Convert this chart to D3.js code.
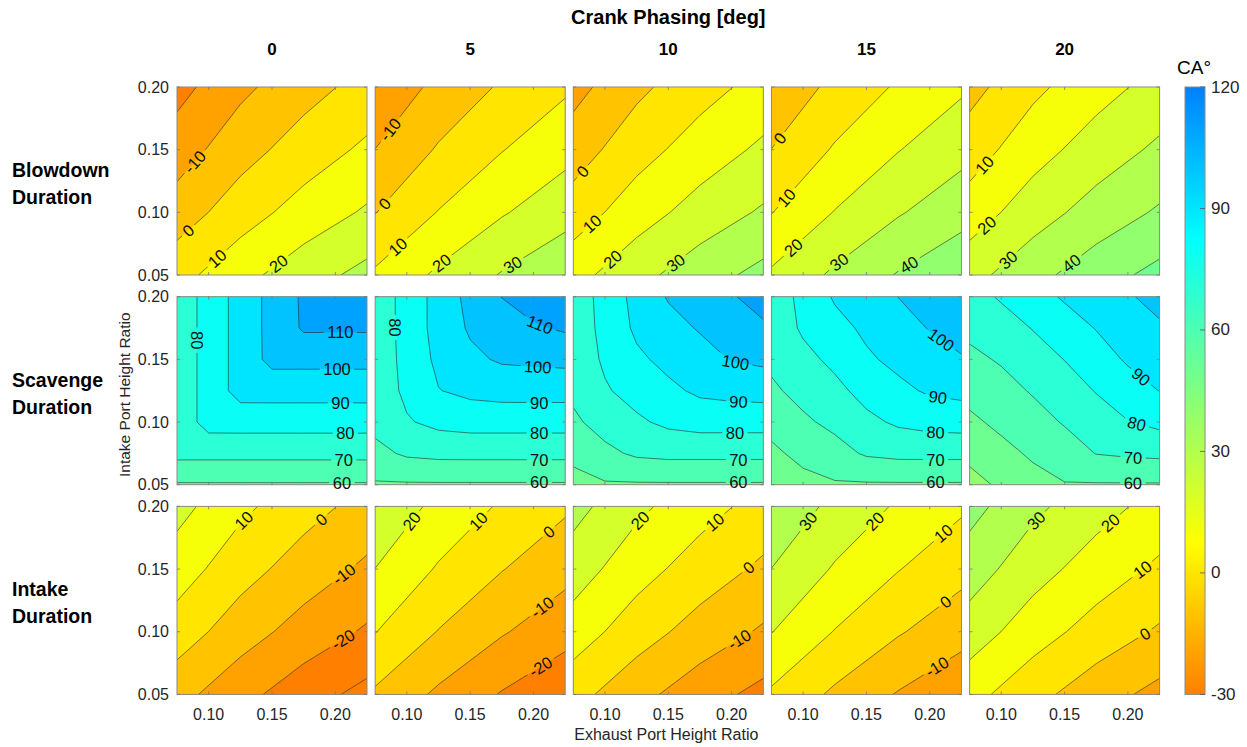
<!DOCTYPE html>
<html>
<head>
<meta charset="utf-8">
<script src="https://cdn.jsdelivr.net/npm/d3@7"></script>
<style>
  html, body { margin: 0; padding: 0; background: #fff; }
  svg { display: block; }
</style>
</head>
<body>
<svg id="chart" width="1247" height="747"></svg>
<script>
// ---- sample positions of the grids (exhaust = x, intake = y) ----
const exhaustCoarse = [0.075, 0.125, 0.175, 0.225];
const intakeCoarse  = [0.05, 0.10, 0.15, 0.20];
const exhaustFine   = [0.075, 0.1, 0.125, 0.15, 0.175, 0.2, 0.225];
const intakeFine    = [0.05, 0.075, 0.1, 0.125, 0.15, 0.175, 0.2];

const crankPhasing = [0, 5, 10, 15, 20];
const exhaustTicks = [0.10, 0.15, 0.20];
const intakeTicks  = [0.05, 0.10, 0.15, 0.20];
const colorTicks   = [-30, 0, 30, 60, 90, 120];
const contourLevels = [-50, -40, -30, -20, -10, 0, 10, 20, 30, 40, 50, 60, 70, 80, 90, 100, 110, 120, 130];

// ---- duration grids [CA deg]; rows go from intake 0.05 (bottom) to 0.20 (top) ----
const blowdown0  = [[6.5, 16.8, 25.7, 33.0], [-5.3, 5.4, 14.1, 21.3], [-14.9, -4.0, 4.6, 11.9], [-23.4, -12.3, -3.8, 3.5]];
const blowdown5  = [[11.5, 21.8, 30.7, 38.0], [-0.3, 10.4, 19.1, 26.3], [-9.9, 1.0, 9.6, 16.9], [-18.4, -7.3, 1.2, 8.5]];
const blowdown10 = [[16.5, 26.8, 35.7, 43.0], [4.7, 15.4, 24.1, 31.3], [-4.9, 6.0, 14.6, 21.9], [-13.4, -2.3, 6.2, 13.5]];
const blowdown15 = [[21.5, 31.8, 40.7, 48.0], [9.7, 20.4, 29.1, 36.3], [0.1, 11.0, 19.6, 26.9], [-8.4, 2.7, 11.2, 18.5]];
const blowdown20 = [[26.5, 36.8, 45.7, 53.0], [14.7, 25.4, 34.1, 41.3], [5.1, 16.0, 24.6, 31.9], [-3.4, 7.7, 16.2, 23.5]];

const scavenge0 = [
  [59.1, 59.1, 59.1, 59.1, 59.1, 59.1, 59.1],
  [72.9, 72.9, 72.9, 72.9, 72.9, 72.9, 72.9],
  [73.5, 83.8, 83.9, 83.9, 83.9, 83.9, 83.9],
  [73.5, 83.8, 93.8, 93.9, 93.9, 93.9, 93.9],
  [73.5, 83.8, 93.8, 102.8, 102.8, 102.8, 102.8],
  [73.5, 83.8, 93.8, 103.0, 111.2, 111.2, 111.2],
  [73.5, 83.8, 93.8, 103.0, 111.5, 117.0, 118.0]];
const scavenge5 = [
  [59.0, 59.0, 59.0, 59.0, 59.0, 59.0, 59.0],
  [67.2, 71.5, 72.7, 72.8, 72.8, 72.8, 72.8],
  [73.0, 79.1, 82.6, 83.9, 83.9, 83.9, 83.9],
  [73.5, 82.2, 89.7, 92.4, 93.6, 93.7, 93.7],
  [73.8, 83.0, 92.2, 98.0, 101.2, 101.9, 102.5],
  [74.0, 83.4, 93.7, 101.2, 105.3, 108.8, 111.3],
  [74.0, 83.5, 93.7, 102.9, 110.2, 115.0, 118.0]];
const scavenge10 = [
  [56.7, 59.0, 59.0, 59.0, 59.0, 59.0, 59.0],
  [62.5, 67.7, 71.6, 72.7, 72.7, 72.7, 72.7],
  [68.3, 73.8, 78.4, 82.1, 83.8, 83.8, 83.8],
  [72.0, 79.0, 83.6, 87.9, 91.8, 93.2, 93.8],
  [73.5, 81.5, 88.2, 92.6, 96.3, 100.5, 102.0],
  [74.0, 82.8, 91.8, 96.7, 100.8, 105.0, 108.5],
  [74.2, 83.4, 93.2, 100.8, 105.0, 109.2, 114.0]];
const scavenge15 = [
  [52.8, 57.0, 59.0, 59.0, 59.0, 59.0, 59.0],
  [58.0, 62.7, 66.4, 71.2, 72.6, 72.7, 72.7],
  [63.2, 68.4, 72.4, 77.7, 81.5, 83.4, 84.0],
  [68.4, 73.0, 77.4, 83.3, 87.7, 91.3, 92.7],
  [72.0, 77.2, 82.3, 88.6, 92.4, 95.9, 99.0],
  [73.3, 81.5, 86.9, 91.8, 96.2, 100.5, 105.0],
  [74.0, 82.7, 91.1, 95.6, 100.1, 104.0, 108.0]];
const scavenge20 = [
  [46.7, 51.5, 56.7, 59.5, 59.3, 59.3, 59.3],
  [52.4, 57.2, 61.4, 65.2, 70.3, 71.5, 72.2],
  [58.1, 62.2, 66.2, 70.8, 75.4, 79.7, 82.6],
  [63.1, 66.5, 70.9, 75.5, 80.5, 85.6, 90.2],
  [67.7, 71.0, 75.7, 80.2, 85.6, 91.2, 94.5],
  [72.4, 76.0, 80.4, 85.6, 90.4, 95.3, 98.8],
  [76.5, 81.0, 86.3, 91.1, 94.9, 99.1, 103.0]];

const intake0  = [[-6.5, -16.8, -25.7, -33.0], [5.3, -5.4, -14.1, -21.3], [14.9, 4.0, -4.6, -11.9], [23.4, 12.3, 3.8, -3.5]];
const intake5  = [[-1.5, -11.8, -20.7, -28.0], [10.3, -0.4, -9.1, -16.3], [19.9, 9.0, 0.4, -6.9], [28.4, 17.3, 8.8, 1.5]];
const intake10 = [[3.5, -6.8, -15.7, -23.0], [15.3, 4.6, -4.1, -11.3], [24.9, 14.0, 5.4, -1.9], [33.4, 22.3, 13.8, 6.5]];
const intake15 = [[8.5, -1.8, -10.7, -18.0], [20.3, 9.6, 0.9, -6.3], [29.9, 19.0, 10.4, 3.1], [38.4, 27.3, 18.8, 11.5]];
const intake20 = [[13.5, 3.2, -5.7, -13.0], [25.3, 14.6, 5.9, -1.3], [34.9, 24.0, 15.4, 8.1], [43.4, 32.3, 23.8, 16.5]];

// ---- inline contour labels: [level, exhaust, intake] near where each label sits ----
const blowdownLabels = [
  [[-10, 0.0921, 0.1376], [0, 0.0855, 0.0837], [10, 0.1066, 0.0633], [20, 0.154, 0.0606]],
  [[-10, 0.0876, 0.1655], [0, 0.0837, 0.1058], [10, 0.0929, 0.0726], [20, 0.1257, 0.062], [30, 0.1822, 0.0606]],
  [[0, 0.0842, 0.131], [10, 0.0908, 0.0898], [20, 0.1066, 0.062], [30, 0.1553, 0.0606]],
  [[0, 0.0837, 0.1575], [10, 0.0889, 0.1097], [20, 0.0929, 0.0712], [30, 0.1283, 0.0606], [40, 0.1822, 0.0606]],
  [[10, 0.0877, 0.1369], [20, 0.089, 0.0892], [30, 0.1048, 0.0627], [40, 0.155, 0.06]]];
const scavengeLabels = [
  [[80, 0.0908, 0.1653], [110, 0.204, 0.1714], [100, 0.2013, 0.1416], [90, 0.204, 0.1146], [80, 0.2079, 0.0906], [70, 0.2066, 0.0687], [60, 0.2053, 0.0515]],
  [[80, 0.0902, 0.1755], [110, 0.2032, 0.1728], [100, 0.2032, 0.1408], [90, 0.2045, 0.114], [80, 0.2045, 0.09], [70, 0.2045, 0.0687], [60, 0.2045, 0.0515]],
  [[100, 0.2026, 0.1448], [90, 0.2053, 0.114], [80, 0.2026, 0.09], [70, 0.2053, 0.0687], [60, 0.2053, 0.0515]],
  [[100, 0.2084, 0.1648], [90, 0.2058, 0.1154], [80, 0.2045, 0.09], [70, 0.2045, 0.0687], [60, 0.2045, 0.0515]],
  [[90, 0.2092, 0.1347], [80, 0.2052, 0.0923], [70, 0.2039, 0.0693], [60, 0.2039, 0.0515]]];
const intakeLabels = [
  [[10, 0.129, 0.1875], [0, 0.1895, 0.1888], [-10, 0.2066, 0.1463], [-20, 0.2066, 0.0931]],
  [[20, 0.1047, 0.1875], [10, 0.1572, 0.1875], [0, 0.2111, 0.1809], [-10, 0.2058, 0.121], [-20, 0.2058, 0.0718]],
  [[20, 0.129, 0.1875], [10, 0.1868, 0.1875], [0, 0.2132, 0.1516], [-10, 0.2066, 0.0931]],
  [[30, 0.1047, 0.1875], [20, 0.1572, 0.1875], [10, 0.2111, 0.1782], [0, 0.2137, 0.1223], [-10, 0.2058, 0.0718]],
  [[30, 0.1286, 0.1876], [20, 0.1867, 0.1862], [10, 0.2118, 0.1492], [0, 0.2131, 0.099]]];

const rows = [
  { names: ["Blowdown", "Duration"], gx: exhaustCoarse, gy: intakeCoarse,
    grids: [blowdown0, blowdown5, blowdown10, blowdown15, blowdown20], labels: blowdownLabels },
  { names: ["Scavenge", "Duration"], gx: exhaustFine, gy: intakeFine,
    grids: [scavenge0, scavenge5, scavenge10, scavenge15, scavenge20], labels: scavengeLabels },
  { names: ["Intake", "Duration"], gx: exhaustCoarse, gy: intakeCoarse,
    grids: [intake0, intake5, intake10, intake15, intake20], labels: intakeLabels }
];

// ---- layout ----
const FONT = '"Liberation Sans", Arial, Helvetica, sans-serif';
const AXIS_COLOR = "#262626";
const panelW = 190, panelH = 188;
const left0 = 177, colStep = 198.15;
const top0 = 87, rowStep = 209.7;
const LABEL_SIZE = 16.5;

// jet colour map restricted to its orange..azure half, reversed over [-30, 120]
function jet(t) {
  const c = v => Math.max(0, Math.min(1, v));
  return d3.rgb(255 * c(1.5 - Math.abs(4 * t - 3)),
                255 * c(1.5 - Math.abs(4 * t - 2)),
                255 * c(1.5 - Math.abs(4 * t - 1)));
}
const cDomain = [colorTicks[0], colorTicks[colorTicks.length - 1]];
const tScale = d3.scaleLinear().domain(cDomain).range([0.75, 0.25]).clamp(true);
const colorOf = v => jet(tScale(v)).formatHex();

const svg = d3.select("#chart").style("font-family", FONT);
const defs = svg.append("defs");
svg.append("rect").attr("width", 1247).attr("height", 747).attr("fill", "#fff");

const xScale = d3.scaleLinear().domain([0.075, 0.225]).range([0, panelW]);
const yScale = d3.scaleLinear().domain([0.05, 0.20]).range([panelH, 0]);

rows.forEach((row, r) => {
  const nx = row.gx.length, ny = row.gy.length;
  // grid index space (sample i sits at i + 0.5) -> data space
  const gxToData = d3.scaleLinear().domain(d3.range(nx).map(i => i + 0.5)).range(row.gx);
  const gyToData = d3.scaleLinear().domain(d3.range(ny).map(j => j + 0.5)).range(row.gy);
  const toPx = p => [xScale(gxToData(p[0])), yScale(gyToData(p[1]))];
  const path = d3.geoPath(d3.geoTransform({
    point(x, y) { const q = toPx([x, y]); this.stream.point(q[0], q[1]); }
  }));
  const contourGen = d3.contours().size([nx, ny]).smooth(true).thresholds(contourLevels);

  row.grids.forEach((grid, c) => {
    const id = `p${r}${c}`;
    const px0 = left0 + c * colStep, py0 = top0 + r * rowStep;
    const g = svg.append("g").attr("transform", `translate(${px0},${py0})`);

    defs.append("clipPath").attr("id", "clip-" + id)
      .append("rect").attr("width", panelW).attr("height", panelH);
    const mask = defs.append("mask").attr("id", "mask-" + id)
      .attr("maskUnits", "userSpaceOnUse")
      .attr("x", -20).attr("y", -20).attr("width", panelW + 40).attr("height", panelH + 40);
    mask.append("rect").attr("x", -20).attr("y", -20)
      .attr("width", panelW + 40).attr("height", panelH + 40).attr("fill", "#fff");

    const flat = [];
    for (let j = 0; j < ny; j++) for (let i = 0; i < nx; i++) flat.push(grid[j][i]);
    const contours = contourGen(flat);
    const byLevel = new Map(contours.map(d => [d.value, d]));

    const clipped = g.append("g").attr("clip-path", `url(#clip-${id})`);
    // filled bands: each level paints everything at or above it
    clipped.append("g").selectAll("path").data(contours).join("path")
      .attr("d", path).attr("fill", d => colorOf(d.value)).attr("stroke", "none");
    // iso-lines, with gaps where labels sit
    clipped.append("g").attr("mask", `url(#mask-${id})`)
      .selectAll("path").data(contours).join("path")
      .attr("d", path).attr("fill", "none")
      .attr("stroke", "#2b2b2b").attr("stroke-width", 0.7).attr("stroke-opacity", 0.85);

    // frame and inward ticks
    g.append("rect").attr("width", panelW).attr("height", panelH)
      .attr("fill", "none").attr("stroke", "#8a8a8a").attr("stroke-width", 1);
    const tk = g.append("g").attr("stroke", "#777").attr("stroke-width", 0.8);
    exhaustTicks.forEach(t => {
      const x = xScale(t);
      tk.append("line").attr("x1", x).attr("x2", x).attr("y1", panelH).attr("y2", panelH - 3);
      tk.append("line").attr("x1", x).attr("x2", x).attr("y1", 0).attr("y2", 3);
    });
    intakeTicks.forEach(t => {
      const y = yScale(t);
      tk.append("line").attr("x1", 0).attr("x2", 3).attr("y1", y).attr("y2", y);
      tk.append("line").attr("x1", panelW).attr("x2", panelW - 3).attr("y1", y).attr("y2", y);
    });

    // contour labels, aligned with the local direction of their line
    const inside = p => p[0] >= -0.5 && p[0] <= panelW + 0.5 && p[1] >= -0.5 && p[1] <= panelH + 0.5;
    const lab = g.append("g");
    row.labels[c].forEach(([lvl, lx, ly]) => {
      const cont = byLevel.get(lvl);
      if (!cont) return;
      const tx = xScale(lx), ty = yScale(ly);
      let best = null;
      cont.coordinates.forEach(poly => poly.forEach(ring => {
        for (let k = 0; k < ring.length - 1; k++) {
          const a = toPx(ring[k]), b = toPx(ring[k + 1]);
          if (!inside(a) || !inside(b)) continue;
          const dx = b[0] - a[0], dy = b[1] - a[1], L2 = dx * dx + dy * dy;
          if (L2 < 1e-9) continue;
          let t = ((tx - a[0]) * dx + (ty - a[1]) * dy) / L2;
          t = Math.max(0, Math.min(1, t));
          const qx = a[0] + t * dx, qy = a[1] + t * dy;
          const d = (qx - tx) ** 2 + (qy - ty) ** 2;
          if (!best || d < best.d) best = { d, qx, qy, ang: Math.atan2(dy, dx) * 180 / Math.PI };
        }
      }));
      if (!best) return;
      let ang = best.ang;
      if (ang > 90) ang -= 180;
      if (ang <= -90) ang += 180;
      const text = lab.append("text")
        .attr("x", best.qx).attr("y", best.qy)
        .attr("transform", `rotate(${ang},${best.qx},${best.qy})`)
        .attr("text-anchor", "middle").attr("dominant-baseline", "central")
        .attr("font-size", LABEL_SIZE).attr("fill", "#111")
        .text(String(lvl));
      const w = text.node().getComputedTextLength() + 7;
      mask.append("rect")
        .attr("x", best.qx - w / 2).attr("y", best.qy - 7)
        .attr("width", w).attr("height", 14)
        .attr("transform", `rotate(${ang},${best.qx},${best.qy})`)
        .attr("fill", "#000");
    });

    // tick labels on the outer panels only
    if (c === 0) {
      intakeTicks.forEach(t => {
        g.append("text").attr("x", -8).attr("y", yScale(t))
          .attr("text-anchor", "end").attr("dominant-baseline", "central")
          .attr("font-size", 16).attr("fill", AXIS_COLOR).text(t.toFixed(2));
      });
    }
    if (r === rows.length - 1) {
      exhaustTicks.forEach(t => {
        g.append("text").attr("x", xScale(t)).attr("y", panelH + 26)
          .attr("text-anchor", "middle")
          .attr("font-size", 16).attr("fill", AXIS_COLOR).text(t.toFixed(2));
      });
    }
    if (r === 0) {
      g.append("text").attr("x", panelW / 2).attr("y", -32)
        .attr("text-anchor", "middle").attr("font-size", 17).attr("font-weight", "bold")
        .attr("fill", "#000").text(String(crankPhasing[c]));
    }
  });

  // row title
  const cy = top0 + r * rowStep + panelH / 2;
  const rt = svg.append("text").attr("x", 12).attr("font-size", 19.5).attr("font-weight", "bold").attr("fill", "#000");
  rt.append("tspan").attr("x", 12).attr("y", cy - 4).text(row.names[0]);
  rt.append("tspan").attr("x", 12).attr("y", cy + 23).text(row.names[1]);
});

// overall titles
const gridLeft = left0, gridRight = left0 + 4 * colStep + panelW;
svg.append("text").attr("x", (gridLeft + gridRight) / 2).attr("y", 24)
  .attr("text-anchor", "middle").attr("font-size", 20).attr("font-weight", "bold")
  .attr("fill", "#000").text("Crank Phasing [deg]");
svg.append("text").attr("x", (gridLeft + gridRight) / 2 - 2).attr("y", 740)
  .attr("text-anchor", "middle").attr("font-size", 16).attr("fill", AXIS_COLOR)
  .text("Exhaust Port Height Ratio");
svg.append("text").attr("transform", `translate(124,${top0 + rowStep + panelH / 2 + 4}) rotate(-90)`)
  .attr("text-anchor", "middle").attr("dominant-baseline", "central")
  .attr("font-size", 15.5).attr("fill", AXIS_COLOR).text("Intake Port Height Ratio");

// ---- colour bar ----
const cbX = 1185, cbW = 20, cbTop = top0, cbBottom = top0 + 2 * rowStep + panelH;
const cbScale = d3.scaleLinear().domain(cDomain).range([cbBottom, cbTop]);
const grad = defs.append("linearGradient").attr("id", "cbar")
  .attr("x1", 0).attr("y1", 1).attr("x2", 0).attr("y2", 0);
d3.range(0, 1.0001, 1 / 60).forEach(f => {
  const v = cDomain[0] + f * (cDomain[1] - cDomain[0]);
  grad.append("stop").attr("offset", f).attr("stop-color", colorOf(v));
});
svg.append("rect").attr("x", cbX).attr("y", cbTop).attr("width", cbW).attr("height", cbBottom - cbTop)
  .attr("fill", "url(#cbar)").attr("stroke", "#8a8a8a").attr("stroke-width", 1);
colorTicks.forEach(t => {
  const y = cbScale(t);
  svg.append("line").attr("x1", cbX + cbW - 5).attr("x2", cbX + cbW).attr("y1", y).attr("y2", y)
    .attr("stroke", "#555").attr("stroke-width", 0.8);
  svg.append("text").attr("x", cbX + cbW + 6).attr("y", y)
    .attr("dominant-baseline", "central").attr("font-size", 17).attr("fill", AXIS_COLOR).text(String(t));
});
svg.append("text").attr("x", 1177).attr("y", 74).attr("font-size", 19).attr("fill", "#000").text("CA°");
</script>
</body>
</html>
